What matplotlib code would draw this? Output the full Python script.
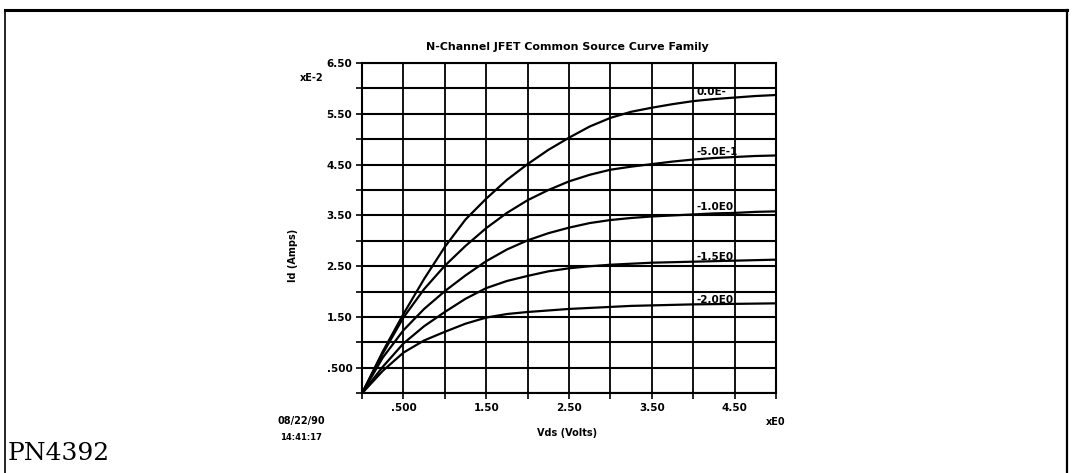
import numpy as np
import matplotlib
matplotlib.use("Agg")
import matplotlib.pyplot as plt
from matplotlib.lines import Line2D

# Drain voltage (V) and drain current (x1e-2 A) for each gate bias
vds = [0.0, 0.25, 0.5, 0.75, 1.0, 1.25, 1.5, 1.75, 2.0, 2.25, 2.5, 2.75,
       3.0, 3.25, 3.5, 3.75, 4.0, 4.25, 4.5, 4.75, 5.0]
id_vgs_0 = [0.0, 0.82, 1.56, 2.25, 2.88, 3.42, 3.83, 4.20, 4.51, 4.79, 5.03, 5.25,
            5.42, 5.54, 5.62, 5.69, 5.75, 5.79, 5.82, 5.85, 5.87]
id_vgs_m05 = [0.0, 0.78, 1.49, 2.05, 2.51, 2.90, 3.25, 3.55, 3.80, 4.00, 4.17, 4.30,
              4.40, 4.46, 4.51, 4.56, 4.60, 4.63, 4.65, 4.67, 4.68]
id_vgs_m10 = [0.0, 0.70, 1.24, 1.66, 2.01, 2.32, 2.60, 2.83, 3.01, 3.15, 3.26, 3.35,
              3.41, 3.45, 3.48, 3.50, 3.52, 3.54, 3.55, 3.57, 3.58]
id_vgs_m15 = [0.0, 0.52, 0.98, 1.32, 1.60, 1.86, 2.07, 2.21, 2.31, 2.40, 2.46, 2.50,
              2.53, 2.55, 2.57, 2.58, 2.59, 2.60, 2.61, 2.62, 2.63]
id_vgs_m20 = [0.0, 0.44, 0.80, 1.04, 1.21, 1.37, 1.49, 1.56, 1.60, 1.63, 1.66, 1.68,
              1.70, 1.72, 1.73, 1.74, 1.75, 1.755, 1.76, 1.765, 1.77]

curves = [id_vgs_0, id_vgs_m05, id_vgs_m10, id_vgs_m15, id_vgs_m20]
curve_labels = ["0.0E-", "-5.0E-1", "-1.0E0", "-1.5E0", "-2.0E0"]
label_y = [5.93, 4.75, 3.67, 2.68, 1.83]

x_ticks = [0.5, 1.5, 2.5, 3.5, 4.5]
x_tick_labels = [".500", "1.50", "2.50", "3.50", "4.50"]
y_ticks = [0.5, 1.5, 2.5, 3.5, 4.5, 5.5, 6.5]
y_tick_labels = [".500", "1.50", "2.50", "3.50", "4.50", "5.50", "6.50"]

W, H = 1073, 473
fig = plt.figure(figsize=(W / 100, H / 100), dpi=100)
fig.patch.set_facecolor("white")

ax = fig.add_axes([362 / W, (H - 393.3) / H, 414 / W, 330.3 / H])
ax.set_xlim(0, 5)
ax.set_ylim(0, 6.5)

# grid every 0.5 in both directions
for gx in np.arange(0, 5.01, 0.5):
    ax.axvline(gx, color="black", lw=1.3, zorder=1)
for gy in np.arange(0, 6.51, 0.5):
    ax.axhline(gy, color="black", lw=1.5, zorder=1)

for s in ax.spines.values():
    s.set_linewidth(1.5)

xt = np.arange(0, 5.01, 0.5)
yt = np.arange(0, 6.51, 0.5)
ax.set_xticks(xt)
ax.set_xticklabels([x_tick_labels[x_ticks.index(v)] if v in x_ticks else "" for v in xt])
ax.set_yticks(yt)
ax.set_yticklabels([y_tick_labels[y_ticks.index(v)] if v in y_ticks else "" for v in yt])
ax.tick_params(direction="out", length=4, width=1.2, pad=3,
               labelsize=7.5, colors="black")
for t in ax.get_xticklabels() + ax.get_yticklabels():
    t.set_fontweight("bold")

for ys in curves:
    ax.plot(vds, ys, color="black", lw=1.6, zorder=3,
            solid_joinstyle="round", solid_capstyle="round")

for lab, ly in zip(curve_labels, label_y):
    ax.text(4.04, ly, lab, fontsize=7.5, fontweight="bold", ha="left", va="center",
            zorder=4)

# titles and annotations
fig.text(567 / W, 1 - 47 / H, "N-Channel JFET Common Source Curve Family",
         fontsize=7.9, fontweight="bold", ha="center", va="center")
fig.text(312 / W, 1 - 78 / H, "xE-2", fontsize=7, fontweight="bold",
         ha="center", va="center")
fig.text(293 / W, 1 - 255 / H, "Id (Amps)", fontsize=7, fontweight="bold",
         ha="center", va="center", rotation=90)
fig.text(567 / W, 1 - 433 / H, "Vds (Volts)", fontsize=7, fontweight="bold",
         ha="center", va="center")
fig.text(776 / W, 1 - 422 / H, "xE0", fontsize=7, fontweight="bold",
         ha="center", va="center")
fig.text(301 / W, 1 - 421 / H, "08/22/90", fontsize=7, fontweight="bold",
         ha="center", va="center")
fig.text(301 / W, 1 - 437 / H, "14:41:17", fontsize=6, fontweight="bold",
         ha="center", va="center")
fig.text(8 / W, 1 - 453 / H, "PN4392", fontsize=18, family="DejaVu Serif",
         ha="left", va="center")

# page frame: top, left and right edges
fig.add_artist(Line2D([5 / W, 1067 / W], [1 - 10 / H, 1 - 10 / H], color="black", lw=2.2))
fig.add_artist(Line2D([5 / W, 5 / W], [0, 1 - 10 / H], color="black", lw=1.2))
fig.add_artist(Line2D([1067 / W, 1067 / W], [0, 1 - 10 / H], color="black", lw=1.6))

fig.savefig("out.png", dpi=100, facecolor="white")
